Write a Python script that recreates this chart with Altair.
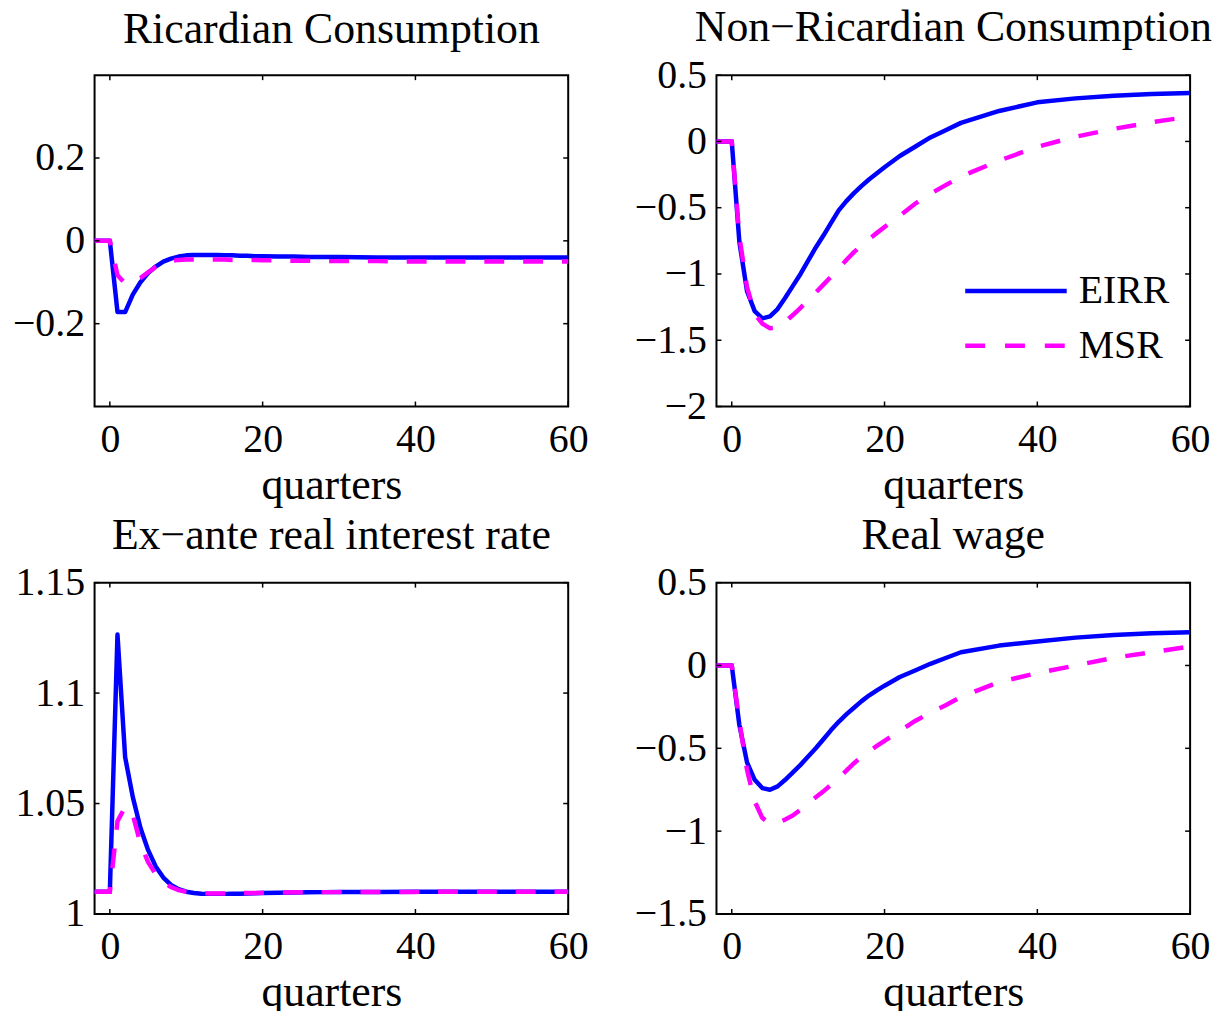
import altair as alt
import pandas as pd

# ---------------- data ----------------
t = [-2, -1, 0, 1, 2, 3, 4, 5, 6, 7, 8, 9, 10, 11, 12, 13, 14, 15, 16, 17, 18,
     19, 20, 22, 24, 26, 28, 30, 35, 40, 45, 50, 55, 60]

series_names = ["EIRR", "MSR"]

ric_eirr = [0, 0, 0, -0.172, -0.172, -0.130, -0.100, -0.078, -0.062, -0.050, -0.043,
            -0.038, -0.035, -0.034, -0.034, -0.034, -0.034, -0.035, -0.035, -0.036,
            -0.036, -0.037, -0.037, -0.038, -0.038, -0.039, -0.039, -0.039, -0.040,
            -0.040, -0.040, -0.040, -0.040, -0.040]
ric_msr = [0, 0, 0, -0.083, -0.103, -0.098, -0.090, -0.076, -0.063, -0.054, -0.049,
           -0.046, -0.045, -0.045, -0.045, -0.045, -0.045, -0.045, -0.046, -0.046,
           -0.046, -0.046, -0.047, -0.047, -0.048, -0.048, -0.049, -0.049, -0.049,
           -0.050, -0.050, -0.050, -0.050, -0.050]

nonric_eirr = [0, 0, 0, -0.76, -1.13, -1.28, -1.335, -1.32, -1.265, -1.18, -1.09,
               -1.00, -0.90, -0.80, -0.71, -0.615, -0.52, -0.45, -0.39, -0.335, -0.285,
               -0.24, -0.195, -0.11, -0.04, 0.03, 0.085, 0.14, 0.23, 0.295, 0.325,
               0.345, 0.358, 0.366]
nonric_msr = [0, 0, 0, -0.72, -1.10, -1.30, -1.375, -1.41, -1.405, -1.36, -1.31,
              -1.255, -1.20, -1.14, -1.08, -1.02, -0.96, -0.895, -0.835, -0.785,
              -0.735, -0.69, -0.645, -0.56, -0.47, -0.395, -0.33, -0.265, -0.145,
              -0.04, 0.035, 0.095, 0.145, 0.188]

rate_eirr = [1.0101, 1.0101, 1.0101, 1.1265, 1.071, 1.053, 1.039, 1.029, 1.0215,
             1.0165, 1.0132, 1.0112, 1.0101, 1.0095, 1.0092, 1.0091, 1.0091, 1.0091,
             1.0092, 1.0092, 1.0093, 1.0094, 1.0095, 1.0096, 1.0097, 1.0098, 1.0099,
             1.0100, 1.0100, 1.0101, 1.0101, 1.0101, 1.0101, 1.0101]
rate_msr = [1.0101, 1.0101, 1.0101, 1.042, 1.0485, 1.045, 1.032, 1.0235, 1.018,
            1.0145, 1.0122, 1.0108, 1.0100, 1.0096, 1.0094, 1.0093, 1.0093, 1.0093,
            1.0094, 1.0094, 1.0095, 1.0095, 1.0096, 1.0097, 1.0098, 1.0098, 1.0099,
            1.0099, 1.0100, 1.0100, 1.0101, 1.0101, 1.0101, 1.0101]

wage_eirr = [0, 0, 0, -0.36, -0.585, -0.69, -0.74, -0.75, -0.73, -0.69, -0.645,
             -0.60, -0.55, -0.50, -0.445, -0.39, -0.34, -0.295, -0.255, -0.215,
             -0.18, -0.15, -0.122, -0.07, -0.03, 0.01, 0.045, 0.08, 0.12, 0.145,
             0.168, 0.184, 0.194, 0.20]
wage_msr = [0, 0, 0, -0.34, -0.63, -0.82, -0.92, -0.955, -0.95, -0.93, -0.905,
            -0.87, -0.83, -0.795, -0.76, -0.72, -0.68, -0.635, -0.59, -0.552, -0.52,
            -0.485, -0.455, -0.395, -0.335, -0.285, -0.24, -0.19, -0.10, -0.046,
            0.0, 0.046, 0.08, 0.114]

titles = ["Ricardian Consumption", "Non\u2212Ricardian Consumption",
          "Ex\u2212ante real interest rate", "Real wage"]
x_label = "quarters"
x_ticks = [0, 20, 40, 60]
y_domains = [[-0.4, 0.4], [-2, 0.5], [1.0, 1.15], [-1.5, 0.5]]
y_ticks = [[-0.2, 0, 0.2], [-2, -1.5, -1, -0.5, 0, 0.5],
           [1.0, 1.05, 1.1, 1.15], [-1.5, -1, -0.5, 0, 0.5]]

# ---------------- style ----------------
W, H = 476, 333
FONT = "Liberation Serif"
BLUE = "#0000ff"
MAGENTA = "#ff00ff"
TICK = 5
LW = 4.5


def panel(title, eirr, msr, ydom, yt, title_offset, legend=False):
    df = pd.DataFrame({"t": t, series_names[0]: eirr, series_names[1]: msr})
    xs = alt.Scale(domain=[-2, 60], nice=False, zero=False)
    ys = alt.Scale(domain=ydom, nice=False, zero=False)
    xenc = alt.X("t:Q", scale=xs,
                 axis=alt.Axis(values=x_ticks, title=x_label, format="~g",
                               labelFlush=False, ticks=False, tickSize=0,
                               domain=False, grid=False, labelPadding=13,
                               titlePadding=4))
    yenc_e = alt.Y(f"{series_names[0]}:Q", scale=ys,
                   axis=alt.Axis(values=yt, title=None, format="~g", ticks=False,
                                 tickSize=0, domain=False, grid=False,
                                 labelPadding=10))
    base = alt.Chart(df)
    blue = base.mark_line(color=BLUE, strokeWidth=LW, strokeJoin="round").encode(
        x=xenc, y=yenc_e)
    mag = base.mark_line(color=MAGENTA, strokeWidth=LW, strokeDash=[20, 19],
                         strokeCap="butt").encode(
        x="t:Q", y=alt.Y(f"{series_names[1]}:Q"))

    xt = alt.Chart(pd.DataFrame({"t": x_ticks}))
    yt_df = alt.Chart(pd.DataFrame({"v": yt}))
    tick_style = dict(color="black", strokeWidth=1.5)
    xb = xt.mark_rule(**tick_style).encode(x="t:Q", y=alt.value(H), y2=alt.value(H - TICK))
    xtop = xt.mark_rule(**tick_style).encode(x="t:Q", y=alt.value(0), y2=alt.value(TICK))
    yl = yt_df.mark_rule(**tick_style).encode(y="v:Q", x=alt.value(0), x2=alt.value(TICK))
    yr = yt_df.mark_rule(**tick_style).encode(y="v:Q", x=alt.value(W - TICK), x2=alt.value(W))

    layers = [blue, mag, xb, xtop, yl, yr]
    if legend:
        lg = alt.Chart(pd.DataFrame({"name": series_names}))
        ypos = [217, 272]
        for name, col, dash, yp in zip(series_names, [BLUE, MAGENTA], [[1, 0], [20, 20]], ypos):
            sub = lg.transform_filter(alt.datum.name == name)
            layers.append(sub.mark_rule(color=col, strokeWidth=LW, strokeDash=dash,
                                        strokeCap="butt").encode(
                x=alt.value(W - 226), x2=alt.value(W - 124), y=alt.value(yp)))
            layers.append(sub.mark_text(align="left", baseline="middle", font=FONT,
                                        fontSize=40, color="black").encode(
                x=alt.value(W - 112), y=alt.value(yp), text="name:N"))

    return alt.layer(*layers).properties(
        width=W, height=H,
        title=alt.TitleParams(title, font=FONT, fontSize=44, fontWeight="normal",
                              color="black", anchor="middle", offset=title_offset))


p1 = panel(titles[0], ric_eirr, ric_msr, y_domains[0], y_ticks[0], 23)
p2 = panel(titles[1], nonric_eirr, nonric_msr, y_domains[1], y_ticks[1], 5, legend=True)
p3 = panel(titles[2], rate_eirr, rate_msr, y_domains[2], y_ticks[2], 5)
p4 = panel(titles[3], wage_eirr, wage_msr, y_domains[3], y_ticks[3], 5)

chart = alt.concat(p1, p2, p3, p4, columns=2, spacing={"row": 5, "column": 44}).properties(
    padding={"left": 3, "top": -5, "right": -1, "bottom": -7},
    background="white",
).configure_view(stroke="black", strokeWidth=2).configure_axis(
    labelFont=FONT, labelFontSize=40, labelColor="black",
    titleFont=FONT, titleFontSize=44, titleFontWeight="normal", titleColor="black"
)

chart.save("out.html", embed_options={"renderer": "svg", "actions": False})
